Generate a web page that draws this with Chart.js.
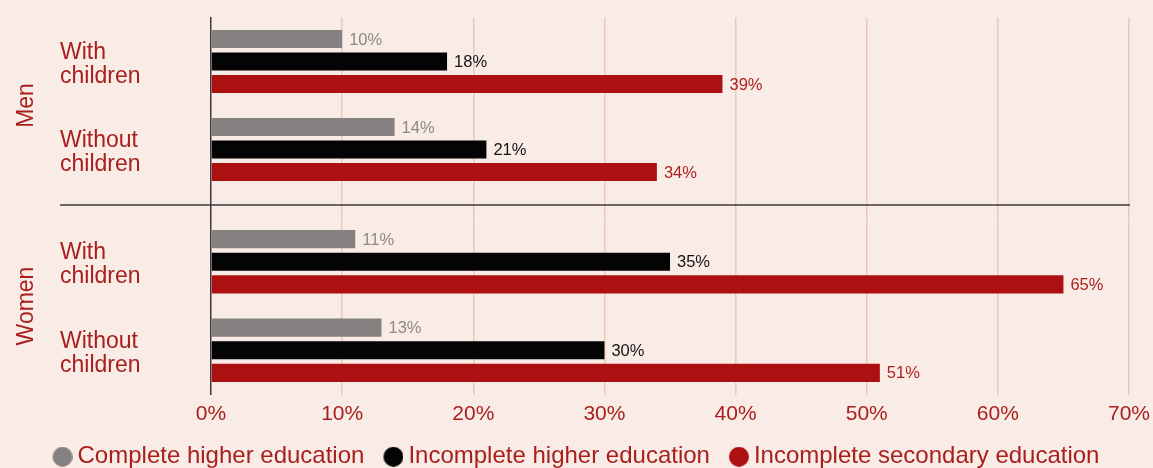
<!DOCTYPE html>
<html>
<head>
<meta charset="utf-8">
<title>Education by gender and parenthood</title>
<script src="https://cdn.jsdelivr.net/npm/chart.js@4.4.1/dist/chart.umd.min.js"></script>
<style>
  html, body { margin: 0; padding: 0; background: #f9ece7; width: 1153px; height: 468px; overflow: hidden; }
  canvas { position: absolute; left: 0; display: block; }
  #men { top: 0; }
  #women { top: 206px; }
</style>
</head>
<body>
<canvas id="men" width="1153" height="206"></canvas>
<canvas id="women" width="1153" height="274"></canvas>
<script>
// Panels and rows
const groups = ['Men', 'Women'];
const rowLabels = [['With', 'children'], ['Without', 'children']];
const seriesNames = ['Complete higher education', 'Incomplete higher education', 'Incomplete secondary education'];

// Shares in %, order: Men with, Men without, Women with, Women without children
const completeHigher = [10, 14, 11, 13];
const incompleteHigher = [18, 21, 35, 30];
const incompleteSecondary = [39, 34, 65, 51];

// Value axis ticks (%)
const xTickValues = [0, 10, 20, 30, 40, 50, 60, 70];

const FONT = "'Liberation Sans', Arial, Helvetica, sans-serif";
const RED_TEXT = '#a81f1c';
const GRID = '#ecc8ba';
const AXIS = '#3a3a3a';
const barColors = ['#858180', '#040404', '#ad1010'];
const valueLabelColors = ['#8e8986', '#141414', '#ad1f1c'];

function alignPixel(px, w) {
  const h = w / 2;
  return Math.round(px - h) + h;
}

// Round legend marker, drawn to the right of the legend box so it sits close to its text
function legendMarker(color) {
  const c = document.createElement('canvas');
  c.width = 40; c.height = 20;
  const g = c.getContext('2d');
  g.fillStyle = color;
  g.beginPath();
  g.arc(30, 10, 10, 0, Math.PI * 2);
  g.fill();
  return c;
}
const legendMarkers = barColors.map(legendMarker);

// "NN%" next to the end of each bar
const valueLabels = {
  id: 'valueLabels',
  afterDatasetsDraw(chart) {
    const { ctx } = chart;
    ctx.save();
    ctx.font = '16.5px ' + FONT;
    ctx.textBaseline = 'middle';
    ctx.textAlign = 'left';
    chart.data.datasets.forEach((ds, i) => {
      const meta = chart.getDatasetMeta(i);
      ctx.fillStyle = valueLabelColors[i];
      meta.data.forEach((bar, j) => {
        ctx.fillText(ds.data[j] + '%', bar.x + 7, bar.y + 1);
      });
    });
    ctx.restore();
  }
};

// Carries the grid and the zero line across the space between the two panels,
// and draws the rule that separates them
const panelJoin = {
  id: 'panelJoin',
  afterDraw(chart, args, opts) {
    const { ctx, chartArea, scales: { x, y } } = chart;
    const y0 = opts.edge === 'bottom' ? chartArea.bottom : 0;
    const y1 = opts.edge === 'bottom' ? chart.height : chartArea.top;
    ctx.save();
    x.ticks.forEach(t => {
      const w = 1.5;
      ctx.strokeStyle = t.value === 0 ? AXIS : GRID;
      ctx.lineWidth = w;
      const px = alignPixel(x.getPixelForValue(t.value), w);
      ctx.beginPath();
      ctx.moveTo(px, y0);
      ctx.lineTo(px, y1);
      ctx.stroke();
    });
    if (opts.separator) {
      ctx.strokeStyle = AXIS;
      ctx.lineWidth = 1.5;
      const sy = chart.height - 1;
      ctx.beginPath();
      ctx.moveTo(y.left, sy);
      ctx.lineTo(chartArea.right + 1, sy);
      ctx.stroke();
    }
    ctx.restore();
  }
};

const series = [completeHigher, incompleteHigher, incompleteSecondary];

function panel(canvasId, g, last) {
  const from = g * rowLabels.length;
  const to = from + rowLabels.length;
  return new Chart(document.getElementById(canvasId), {
    type: 'bar',
    data: {
      labels: rowLabels,
      datasets: series.map((s, i) => ({
        label: seriesNames[i],
        data: s.slice(from, to),
        backgroundColor: barColors[i],
        borderWidth: 0,
        categoryPercentage: 0.767,
        barPercentage: 0.8
      }))
    },
    options: {
      indexAxis: 'y',
      responsive: false,
      animation: false,
      devicePixelRatio: 1,
      layout: {
        padding: last
          ? { left: 10, right: 24, top: 11.5, bottom: 1.3 }
          : { left: 10, right: 24, top: 17.5, bottom: 12.5 }
      },
      scales: {
        x: {
          min: xTickValues[0],
          max: xTickValues[xTickValues.length - 1],
          afterBuildTicks: a => { a.ticks = xTickValues.map(v => ({ value: v })); },
          grid: {
            color: c => (c.tick && c.tick.value === 0 ? 'rgba(0,0,0,0)' : GRID),
            lineWidth: 1.5,
            drawTicks: false
          },
          border: { display: false },
          ticks: {
            display: last,
            color: RED_TEXT,
            font: { family: FONT, size: 21 },
            padding: 7,
            callback: v => v + '%'
          },
          afterFit: a => {
            a.paddingLeft = 0;
            a.paddingRight = 0;
            if (last) a.height += 5;
          }
        },
        y: {
          position: 'left',
          grid: { display: false },
          border: { display: true, color: AXIS, width: 1.5 },
          ticks: {
            crossAlign: 'far',
            labelOffset: 3,
            color: RED_TEXT,
            font: { family: FONT, size: 23, lineHeight: 1.05 }
          },
          afterFit: a => {
            a.width = 151;
            a.paddingTop = 0;
            a.paddingBottom = 0;
          }
        },
        group: {
          type: 'category',
          position: 'left',
          weight: 1,
          grid: { display: false },
          border: { display: false },
          ticks: { display: false },
          title: {
            display: true,
            text: groups[g],
            color: RED_TEXT,
            font: { family: FONT, size: 23 },
            padding: { top: 3, bottom: 0 }
          },
          afterFit: a => {
            a.width = 50;
            a.paddingTop = 0;
            a.paddingBottom = 0;
          }
        }
      },
      plugins: {
        tooltip: { enabled: false },
        legend: last ? {
          position: 'bottom',
          align: 'center',
          labels: {
            usePointStyle: true,
            pointStyleWidth: 26,
            boxWidth: 26,
            boxHeight: 20,
            padding: 6,
            color: RED_TEXT,
            font: { family: FONT, size: 24 },
            generateLabels: chart => Chart.defaults.plugins.legend.labels.generateLabels(chart)
              .map((item, i) => Object.assign(item, { pointStyle: legendMarkers[i], lineWidth: 0 }))
          }
        } : { display: false },
        panelJoin: { edge: last ? 'top' : 'bottom', separator: !last }
      }
    },
    plugins: [valueLabels, panelJoin]
  });
}

panel('men', 0, false);
panel('women', 1, true);
</script>
</body>
</html>
